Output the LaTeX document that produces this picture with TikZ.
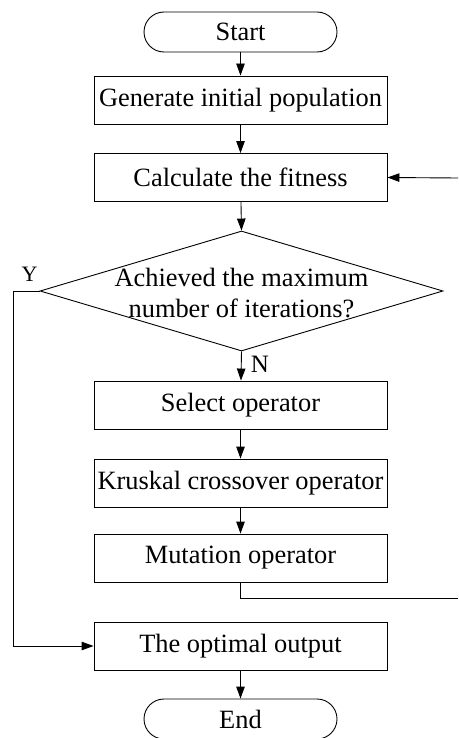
\documentclass[tikz,border=0pt]{standalone}
\usepackage{fontspec}
\setmainfont{Liberation Serif}
\usetikzlibrary{shapes.geometric,arrows.meta}
\begin{document}
\begin{tikzpicture}[x=1pt,y=-1pt,
  every node/.style={font=\fontsize{26.4}{31}\selectfont},
  procbox/.style={draw, line width=0.9pt, minimum width=293pt, minimum height=48pt, inner sep=0pt},
  termbox/.style={draw, line width=0.9pt, rounded corners=20pt, minimum width=193pt, minimum height=40pt, inner sep=0pt},
  decbox/.style={draw, line width=0.9pt, diamond, minimum width=403pt, minimum height=120pt, inner sep=0pt},
  flow/.style={line width=0.9pt, -{Triangle[length=12pt,width=8.5pt]}},
  plain/.style={line width=0.9pt},
  ylbl/.style={font=\fontsize{22}{26}\selectfont, inner sep=0pt},
  nlbl/.style={font=\fontsize{25}{29}\selectfont, inner sep=0pt}
]
\useasboundingbox (0,0) rectangle (458,738);
\node[termbox] (start) at (240.5,32) {Start};
\node[procbox] (gen) at (240.5,100) {Generate initial population};
\node[procbox] (calc) at (240.5,177.5) {Calculate the fitness};
\node[decbox] (dec) at (241.5,291) {};
\node[align=center, inner sep=0pt] (dectext) at (241.5,293) {Achieved the maximum\\number of iterations?};
\node[procbox] (sel) at (240.5,405) {Select operator};
\node[procbox] (kru) at (240.5,483) {Kruskal crossover operator};
\node[procbox] (mut) at (240.5,558) {Mutation operator};
\node[procbox] (opt) at (240.5,646) {The optimal output};
\node[termbox] (end) at (240.5,719) {End};
\node[ylbl] (ylab) at (29.5,274.5) {Y};
\node[nlbl] (nlab) at (260,364) {N};
\coordinate (fbin) at (458,178);
\coordinate (fbout) at (458,598);
\coordinate (yturn) at (13,291);
\draw[flow] (start) -- (gen);
\draw[flow] (gen) -- (calc);
\draw[flow] (calc) -- (dec.north);
\draw[flow] (dec.south) -- (sel);
\draw[flow] (sel) -- (kru);
\draw[flow] (kru) -- (mut);
\draw[flow] (opt) -- (end);
\draw[flow] (fbin) -- (calc.east);
\draw[plain] (mut.south) |- (fbout);
\draw[flow] (dec.west) -- (yturn) |- (opt.west);
\end{tikzpicture}
\end{document}
